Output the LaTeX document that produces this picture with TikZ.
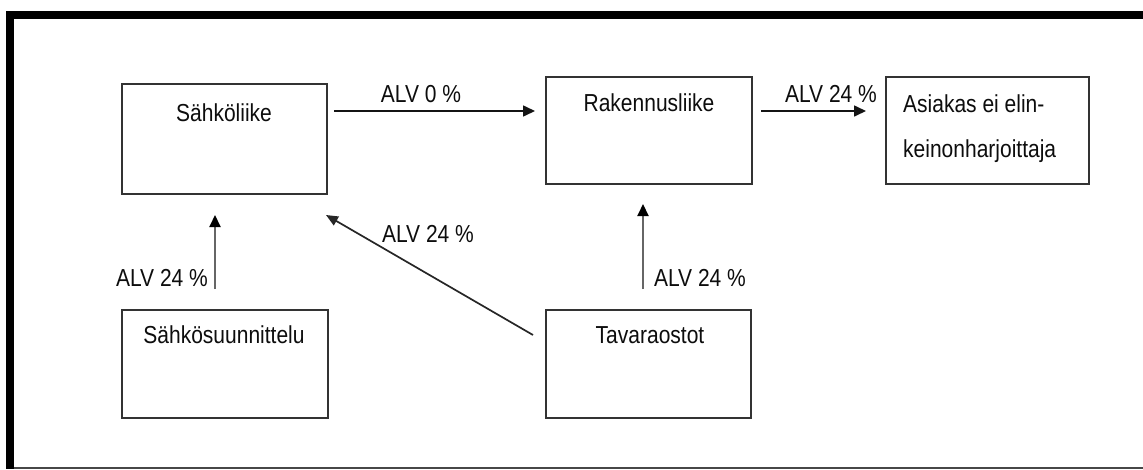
\documentclass[tikz,border=0pt]{standalone}
\usepackage{fontspec}
\setmainfont{Liberation Sans}
\usetikzlibrary{arrows.meta}
% text is set slightly taller than wide
\newcommand\vst[1]{\scalebox{1}[1.17]{#1}}
\begin{document}
\begin{tikzpicture}[x=1pt,y=-1pt,
  every node/.style={font=\fontsize{21}{25}\selectfont},
  box/.style={draw=black!80, line width=1.8pt, inner sep=0pt, anchor=north west},
  txt/.style={anchor=base, inner sep=0pt, text=black!95},
  flow/.style={draw=black!92, line width=1.6pt, -{Triangle[length=12pt,width=11pt]}},
  flowd/.style={draw=black!85, line width=1.7pt, -{Triangle[length=12pt,width=10pt]}},
  flowv/.style={draw=black!60, line width=2.1pt, -{Triangle[length=12pt,width=11pt,color=black,fill=black]}},
]
\useasboundingbox (0,0) rectangle (1143,469);
\fill[white] (0,0) rectangle (1143,469);

% frame
\fill[black] (6,11) rectangle (1143,19);
\fill[black] (6,11) rectangle (14,469);
\fill[black!72] (14,467.2) rectangle (1143,469);

% boxes
\node[box, minimum width=205pt, minimum height=110pt] (sl) at (121,83) {};
\node[box, minimum width=206pt, minimum height=107pt] (rk) at (545,76) {};
\node[box, minimum width=203pt, minimum height=107pt] (as) at (885,76) {};
\node[box, minimum width=206pt, minimum height=108pt] (ss) at (121,309) {};
\node[box, minimum width=205pt, minimum height=108pt] (tv) at (545,309) {};

% box titles
\node[txt] (slT) at (224,121) {\vst{Sähköliike}};
\node[txt] (rkT) at (649,111) {\vst{Rakennusliike}};
\node[txt] (ssT) at (224,343) {\vst{Sähkösuunnittelu}};
\node[txt] (tvT) at (650,343) {\vst{Tavaraostot}};
\node[txt, anchor=base west] (asT1) at (903,112) {\vst{Asiakas ei elin-}};
\node[txt, anchor=base west] (asT2) at (903,157) {\vst{keinonharjoittaja}};

% connector end points
\coordinate (a1) at (334,111);   \coordinate (a2) at (535,111);
\coordinate (b1) at (761,111);   \coordinate (b2) at (866,111);
\coordinate (c1) at (215,289);   \coordinate (c2) at (215,215);
\coordinate (d1) at (533,335);   \coordinate (d2) at (326,215);
\coordinate (e1) at (643,289);   \coordinate (e2) at (643,204);

% flows
\draw[flow] (a1) -- (a2);
\draw[flow] (b1) -- (b2);
\draw[flowv] (c1) -- (c2);
\draw[flowd] (d1) -- (d2);
\draw[flowv] (e1) -- (e2);

% VAT labels
\node[txt] (la) at (421,102) {\vst{ALV 0 \%}};
\node[txt] (lb) at (831,102) {\vst{ALV 24 \%}};
\node[txt] (lc) at (162,286) {\vst{ALV 24 \%}};
\node[txt] (ld) at (428,242) {\vst{ALV 24 \%}};
\node[txt] (le) at (700,286) {\vst{ALV 24 \%}};
\end{tikzpicture}
\end{document}
